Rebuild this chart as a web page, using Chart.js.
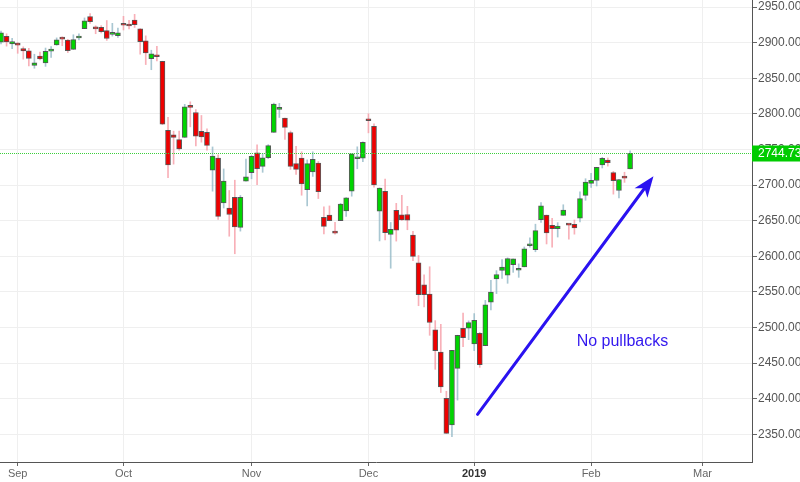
<!DOCTYPE html>
<html>
<head>
<meta charset="utf-8">
<script src="https://cdn.jsdelivr.net/npm/chart.js@4.4.1/dist/chart.umd.min.js"></script>
<style>
html,body{margin:0;padding:0;background:#fff;}
#wrap{position:relative;width:800px;height:482px;}
</style>
</head>
<body>
<div id="wrap"><canvas id="c"></canvas></div>
<script>
// ---- Data (S&P 500 daily candles, trading-day axis) ----
const dates = ['2018-08-29','2018-08-30','2018-08-31',
'2018-09-04','2018-09-05','2018-09-06','2018-09-07','2018-09-10','2018-09-11','2018-09-12','2018-09-13','2018-09-14','2018-09-17','2018-09-18','2018-09-19','2018-09-20','2018-09-21','2018-09-24','2018-09-25','2018-09-26','2018-09-27','2018-09-28',
'2018-10-01','2018-10-02','2018-10-03','2018-10-04','2018-10-05','2018-10-08','2018-10-09','2018-10-10','2018-10-11','2018-10-12','2018-10-15','2018-10-16','2018-10-17','2018-10-18','2018-10-19','2018-10-22','2018-10-23','2018-10-24','2018-10-25','2018-10-26','2018-10-29','2018-10-30','2018-10-31',
'2018-11-01','2018-11-02','2018-11-05','2018-11-06','2018-11-07','2018-11-08','2018-11-09','2018-11-12','2018-11-13','2018-11-14','2018-11-15','2018-11-16','2018-11-19','2018-11-20','2018-11-21','2018-11-23','2018-11-26','2018-11-27','2018-11-28','2018-11-29','2018-11-30',
'2018-12-03','2018-12-04','2018-12-06','2018-12-07','2018-12-10','2018-12-11','2018-12-12','2018-12-13','2018-12-14','2018-12-17','2018-12-18','2018-12-19','2018-12-20','2018-12-21','2018-12-24','2018-12-26','2018-12-27','2018-12-28','2018-12-31',
'2019-01-02','2019-01-03','2019-01-04','2019-01-07','2019-01-08','2019-01-09','2019-01-10','2019-01-11','2019-01-14','2019-01-15','2019-01-16','2019-01-17','2019-01-18','2019-01-22','2019-01-23','2019-01-24','2019-01-25','2019-01-28','2019-01-29','2019-01-30','2019-01-31',
'2019-02-01','2019-02-04','2019-02-05','2019-02-06','2019-02-07','2019-02-08','2019-02-11','2019-02-12'];

const open = [2900.62,2908.94,2898.37,
2896.96,2891.59,2888.64,2868.26,2881.39,2871.57,2888.29,2896.85,2906.38,2903.83,2890.74,2906.60,2919.73,2936.76,2921.83,2921.75,2916.98,2911.65,2910.03,
2926.29,2923.80,2931.69,2919.35,2902.54,2877.53,2882.51,2873.90,2776.87,2770.54,2763.83,2767.05,2811.67,2802.00,2775.66,2773.94,2721.03,2737.87,2674.88,2667.86,2682.65,2640.68,2705.60,
2717.58,2745.45,2726.37,2738.40,2774.13,2806.38,2794.10,2773.93,2730.05,2737.90,2693.52,2718.54,2730.74,2654.60,2657.74,2633.36,2649.97,2663.75,2691.45,2736.97,2737.76,
2790.50,2782.43,2663.51,2691.26,2630.86,2664.44,2658.23,2658.70,2629.68,2590.75,2559.90,2547.05,2496.77,2465.38,2400.56,2363.12,2442.50,2498.77,2498.94,
2476.96,2491.92,2474.33,2535.61,2568.11,2580.00,2573.51,2588.11,2580.31,2585.10,2614.75,2609.28,2651.27,2657.88,2643.48,2638.84,2657.44,2644.97,2644.89,2653.62,2685.49,
2702.32,2706.49,2728.34,2735.05,2717.53,2692.36,2712.40,2722.61];

const high = [2916.50,2912.46,2906.32,
2900.18,2894.21,2892.05,2883.81,2886.93,2892.52,2894.65,2906.76,2908.30,2904.65,2911.17,2912.36,2934.80,2940.91,2923.79,2923.95,2931.15,2927.22,2920.53,
2937.06,2931.42,2939.86,2919.78,2909.64,2889.45,2894.83,2874.02,2795.14,2775.77,2775.99,2813.46,2816.94,2806.04,2797.77,2778.94,2753.59,2742.59,2722.70,2692.38,2706.85,2685.43,2736.69,
2741.67,2756.55,2744.27,2756.82,2815.15,2814.75,2794.10,2775.99,2754.60,2746.80,2735.38,2746.75,2733.16,2669.44,2670.73,2647.55,2674.35,2682.53,2744.00,2753.75,2760.88,
2800.18,2785.93,2696.15,2708.54,2647.51,2674.35,2685.44,2670.19,2635.07,2601.13,2573.99,2585.29,2509.63,2504.41,2410.34,2467.76,2489.10,2520.27,2509.24,
2519.49,2493.14,2538.07,2566.16,2579.82,2595.32,2597.82,2596.27,2589.32,2613.08,2625.76,2645.06,2675.47,2657.88,2653.19,2647.20,2672.38,2644.97,2650.93,2690.44,2708.95,
2716.66,2724.99,2738.98,2738.08,2719.32,2708.07,2718.05,2748.19];

const low = [2898.40,2895.22,2891.73,
2885.13,2876.92,2867.29,2864.12,2875.94,2866.78,2879.20,2896.39,2895.77,2886.16,2890.43,2903.82,2919.73,2927.11,2912.63,2913.70,2903.28,2909.27,2907.50,
2917.91,2919.37,2921.36,2883.92,2869.29,2862.08,2874.27,2784.86,2710.51,2729.44,2749.03,2766.91,2781.81,2755.18,2760.27,2749.22,2691.43,2651.89,2667.84,2628.16,2603.54,2635.34,2705.60,
2708.85,2700.44,2717.94,2737.08,2774.13,2794.99,2764.24,2722.00,2714.98,2685.75,2670.75,2712.16,2681.09,2631.52,2649.82,2631.09,2649.97,2655.89,2684.38,2722.94,2732.76,
2773.38,2697.18,2621.53,2623.14,2583.23,2621.30,2650.26,2637.27,2593.84,2530.54,2528.71,2488.96,2441.18,2408.55,2351.10,2346.58,2397.94,2472.89,2482.82,
2467.47,2443.96,2474.33,2524.56,2547.56,2568.89,2562.02,2577.40,2570.41,2585.10,2612.68,2606.36,2647.58,2617.27,2612.86,2627.01,2657.33,2624.06,2631.05,2648.34,2678.65,
2696.88,2698.75,2724.03,2726.70,2687.26,2681.83,2703.79,2722.61];

const close = [2914.04,2901.13,2901.52,
2896.72,2888.60,2878.05,2871.68,2877.13,2887.89,2888.92,2904.18,2904.98,2888.80,2904.31,2907.95,2930.75,2929.67,2919.37,2915.56,2905.97,2914.00,2913.98,
2924.59,2923.43,2925.51,2901.61,2885.57,2884.43,2880.34,2785.68,2728.37,2767.13,2750.79,2809.92,2809.21,2768.78,2767.78,2755.88,2740.69,2656.10,2705.57,2658.69,2641.25,2682.63,2711.74,
2740.37,2723.06,2738.31,2755.45,2813.89,2806.83,2781.01,2726.22,2722.18,2701.58,2730.20,2736.27,2690.73,2641.89,2649.93,2632.56,2673.45,2682.17,2743.79,2737.80,2760.17,
2790.37,2700.06,2695.95,2633.08,2637.72,2636.78,2651.07,2650.54,2599.95,2545.94,2546.16,2506.96,2467.42,2416.62,2351.10,2467.70,2488.83,2485.74,2506.85,
2510.03,2447.89,2531.94,2549.69,2574.41,2584.96,2596.64,2596.26,2582.61,2610.30,2616.10,2635.96,2670.71,2632.90,2638.70,2642.33,2664.76,2643.85,2640.00,2681.05,2704.10,
2706.53,2724.87,2737.70,2731.61,2706.05,2707.88,2709.80,2744.73];

// tick labels (x positions are trading-day indices; future days counted as weekdays)
const xTickIdx    = [3, 22, 45, 66, 85, 106, 126];
const xTickLabels = ['Sep', 'Oct', 'Nov', 'Dec', '2019', 'Feb', 'Mar'];
const yTickVals   = [2350, 2400, 2450, 2500, 2550, 2600, 2650, 2700, 2750, 2800, 2850, 2900, 2950];

const annotationText = 'No pullbacks';

// ---- Styling ----
const UP = '#00d400', DOWN = '#ee0000';
const UP_WICK = 'rgba(140,180,195,0.75)', DOWN_WICK = 'rgba(245,150,160,0.75)';
const FONT = "'Liberation Sans', Arial, sans-serif";

const isUp = close.map((c, i) => c >= open[i]);
const wickData = dates.map((d, i) => ({x: i, y: [low[i], high[i]]}));
const bodyData = dates.map((d, i) => ({x: i, y: [open[i], close[i]]}));

const lastPrice = close[close.length - 1];

// annotation geometry in data space (index, value)
const arrowFrom = {i: 85.6, v: 2378};
const arrowTo   = {i: 117.2, v: 2712.5};
const textAt    = {i: 103.4, v: 2480};

const overlay = {
  id: 'overlay',
  afterDraw(chart) {
    const {ctx, chartArea: ca, scales: {x, y}} = chart;
    // current price line
    const py = Math.round(y.getPixelForValue(lastPrice)) + 0.5;
    ctx.save();
    ctx.strokeStyle = '#3ccf3c';
    ctx.lineWidth = 1;
    ctx.setLineDash([1, 1]);
    ctx.beginPath(); ctx.moveTo(ca.left, py); ctx.lineTo(ca.right, py); ctx.stroke();
    ctx.setLineDash([]);
    // price label
    ctx.fillStyle = '#00cc00';
    ctx.fillRect(ca.right, py - 8, chart.width - ca.right, 16);
    ctx.fillStyle = '#ffffff';
    ctx.font = '12px ' + FONT;
    ctx.textBaseline = 'middle';
    ctx.textAlign = 'left';
    ctx.fillText(lastPrice.toFixed(2), ca.right + 6, py);

    // arrow
    const x1 = x.getPixelForValue(arrowFrom.i), y1 = y.getPixelForValue(arrowFrom.v);
    const x2 = x.getPixelForValue(arrowTo.i),   y2 = y.getPixelForValue(arrowTo.v);
    const dx = x2 - x1, dy = y2 - y1, L = Math.hypot(dx, dy);
    const ux = dx / L, uy = dy / L, nx = -uy, ny = ux;
    const headLen = 21, headW = 8, notch = 15;
    ctx.strokeStyle = '#2a12f0';
    ctx.fillStyle = '#2a12f0';
    ctx.lineWidth = 3;
    ctx.lineCap = 'round';
    ctx.beginPath();
    ctx.moveTo(x1, y1);
    ctx.lineTo(x2 - ux * notch, y2 - uy * notch);
    ctx.stroke();
    ctx.beginPath();
    ctx.moveTo(x2, y2);
    ctx.lineTo(x2 - ux * headLen + nx * headW, y2 - uy * headLen + ny * headW);
    ctx.lineTo(x2 - ux * notch, y2 - uy * notch);
    ctx.lineTo(x2 - ux * headLen - nx * headW, y2 - uy * headLen - ny * headW);
    ctx.closePath();
    ctx.fill();

    // text
    ctx.fillStyle = '#3318ee';
    ctx.font = '16px ' + FONT;
    ctx.textBaseline = 'middle';
    ctx.textAlign = 'left';
    ctx.fillText(annotationText, x.getPixelForValue(textAt.i), y.getPixelForValue(textAt.v));
    ctx.restore();
  }
};

new Chart(document.getElementById('c'), {
  type: 'bar',
  data: {
    datasets: [
      {
        label: 'wick',
        data: wickData,
        backgroundColor: isUp.map(u => u ? UP_WICK : DOWN_WICK),
        borderWidth: 0,
        barThickness: 1,
        grouped: false,
        order: 2
      },
      {
        label: 'body',
        data: bodyData,
        backgroundColor: isUp.map(u => u ? UP : DOWN),
        borderColor: 'rgba(60,60,60,0.85)',
        borderWidth: 1,
        borderSkipped: false,
        barThickness: 5,
        minBarLength: 2,
        grouped: false,
        order: 1
      }
    ]
  },
  options: {
    responsive: true,
    maintainAspectRatio: false,
    animation: false,
    devicePixelRatio: 1,
    layout: {padding: 0},
    plugins: {legend: {display: false}, tooltip: {enabled: false}},
    scales: {
      x: {
        type: 'linear',
        min: -0.18,
        max: 134.9,
        offset: false,
        afterBuildTicks(scale) { scale.ticks = xTickIdx.map(v => ({value: v})); },
        afterFit(scale) { scale.height = 20; scale.paddingLeft = 0; scale.paddingRight = 0; },
        grid: {color: '#efefef', tickColor: '#666', tickLength: 4, offset: false},
        border: {color: '#555', width: 1},
        ticks: {
          autoSkip: false,
          maxRotation: 0,
          padding: 1,
          font: ctx => ({family: FONT, size: 11, weight: (ctx.tick && ctx.tick.value === 85) ? 'bold' : 'normal'}),
          color: ctx => (ctx.tick && ctx.tick.value === 85) ? '#333' : '#666',
          callback: (v) => { const k = xTickIdx.indexOf(v); return k >= 0 ? xTickLabels[k] : ''; }
        }
      },
      y: {
        position: 'right',
        min: 2311,
        max: 2960,
        afterBuildTicks(scale) { scale.ticks = yTickVals.map(v => ({value: v})); },
        afterFit(scale) { scale.width = 48; scale.paddingTop = 0; scale.paddingBottom = 0; },
        grid: {color: '#efefef', tickColor: '#666', tickLength: 5},
        border: {color: '#555', width: 1},
        ticks: {
          padding: 1,
          font: {family: FONT, size: 12},
          color: '#555',
          callback: v => Number(v).toFixed(2)
        }
      }
    }
  },
  plugins: [overlay]
});
</script>
</body>
</html>
